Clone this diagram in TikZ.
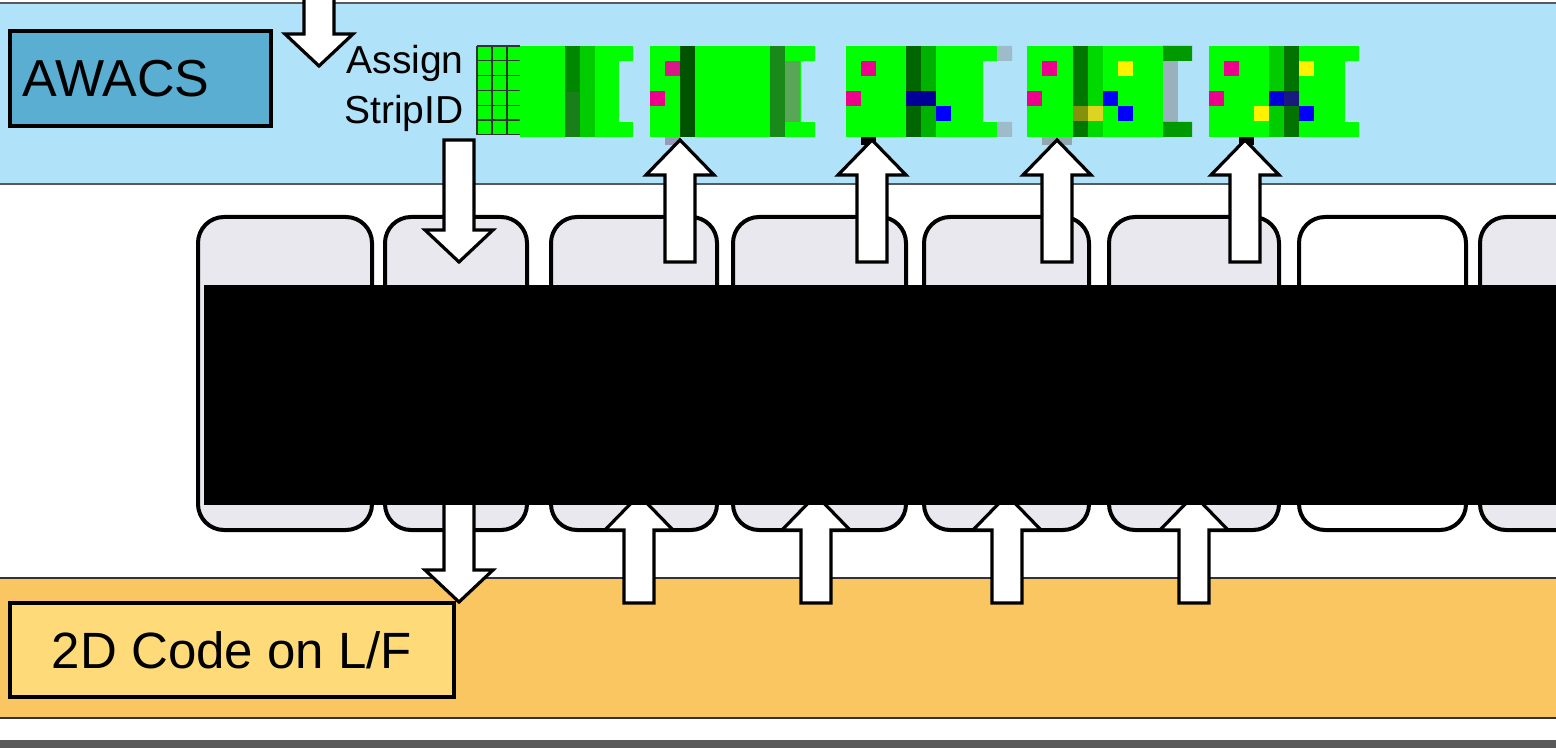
\documentclass[tikz,border=0pt]{standalone}
\usepackage{fontspec}
\setmainfont{Liberation Sans}
\begin{document}
\begin{tikzpicture}[x=0.5pt,y=-0.5pt,
  box/.style={draw=black,line width=2pt,rounded corners=13pt,fill=boxgray},
  lbl/.style={draw=black,line width=1.7pt,inner sep=0pt},
  barrow/.style={draw=black,line width=1.6pt,fill=white,line join=miter}]
\definecolor{bandblue}{HTML}{B0E2F9}
\definecolor{awacs}{HTML}{5AAED2}
\definecolor{bandor}{HTML}{F9C662}
\definecolor{codebox}{HTML}{FEDB78}
\definecolor{boxgray}{HTML}{E9E8EE}
\definecolor{gr}{HTML}{00FF00}
\useasboundingbox (0,0) rectangle (1556,748);
\newcommand{\uparr}[3]{\draw[barrow] (#1-15,#2) -- (#1-15,#3+35) -- (#1-34,#3+35) -- (#1,#3) -- (#1+34,#3+35) -- (#1+15,#3+35) -- (#1+15,#2) -- cycle;}
\newcommand{\dnarr}[3]{\draw[barrow] (#1-15,#2) -- (#1-15,#3-32) -- (#1-34,#3-32) -- (#1,#3) -- (#1+34,#3-32) -- (#1+15,#3-32) -- (#1+15,#2) -- cycle;}
\newcommand{\px}[4]{\fill[#4] (#1,#2) rectangle (#1+15,#2+#3);}
% bands
\fill[bandblue] (0,3) rectangle (1556,184);
\draw[gray!70!black,line width=0.8pt] (0,3) -- (1556,3) (0,184) -- (1556,184);
\fill[bandor] (0,578) rectangle (1556,718);
\draw[gray!40!black,line width=0.8pt] (0,578) -- (1556,578) (0,718) -- (1556,718);
\fill[black!65] (0,740) rectangle (1556,748);
% label nodes
\node[lbl,fill=awacs,minimum width=130.5pt,minimum height=47.5pt,text width=118pt,align=left,font=\fontsize{26}{28}\selectfont] (awacs) at (140.5,78.5) {AWACS};
\node[lbl,fill=codebox,minimum width=222pt,minimum height=47pt,font=\fontsize{25.5}{28}\selectfont] (code) at (232,650) {2D Code on L/F};
\node[align=right,font=\fontsize{19.5}{25}\selectfont,inner sep=0pt] (assign) at (404,88) {Assign\\StripID};
% top down arrow
\dnarr{319}{-5}{66}
% grid
\fill[gr] (477,46) rectangle (520,135);
\foreach \i in {0,...,6} \draw[black!80,line width=0.6pt] (477,46+\i*14.8) -- (520,46+\i*14.8);
\foreach \i in {0,1,2} \draw[black!80,line width=0.6pt] (477+\i*15,46) -- (477+\i*15,135);
% strips
\foreach \a/\b in {520/633,650/815,846/997,1027/1192,1209/1359}{
  \fill[gr] (\a,46) rectangle (\b,137);
  \fill[bandblue] (\b-14,61) rectangle (\b,122);}
% strip1
\fill[green!53!black] (565,46) rectangle (580,92);
\fill[green!50!black!80!gray] (565,92) rectangle (580,137);
\fill[green!80!black] (580,46) rectangle (595,137);
% strip2
\px{665}{61}{15}{magenta!80!violet}\px{650}{91}{15}{magenta}
\fill[green!33!black] (680,46) rectangle (695,137);
\fill[green!55!black!80!gray] (770,46) rectangle (785,137);
\fill[green!30!gray] (785,61) rectangle (800,122);
\fill[black!70!blue!40] (665,137) rectangle (680,145);
% strip3
\px{861}{61}{15}{magenta}\px{846}{91}{15}{magenta}
\fill[green!40!black] (906,46) rectangle (921,137);
\fill[green!70!black] (921,46) rectangle (936,137);
\fill[blue!60!black] (906,91) rectangle (936,106);
\px{936}{106}{15}{blue}
\fill[gray!40!bandblue] (997,46) rectangle (1012,61) (997,122) rectangle (1012,137);
\fill[black] (861,137) rectangle (876,145);
% strip4
\px{1042}{61}{15}{magenta}\px{1027}{91}{15}{magenta}
\fill[green!47!black] (1073,46) rectangle (1088,137);
\fill[green!85!black] (1088,46) rectangle (1103,137);
\px{1118}{61}{15}{yellow}\px{1103}{91}{15}{blue}\px{1118}{106}{15}{blue}
\px{1088}{106}{15}{yellow!85!black}\px{1073}{106}{15}{olive!80!green}
\fill[gray!50!bandblue] (1163,61) rectangle (1178,122);
\fill[green!60!black] (1163,46) rectangle (1192,61) (1163,122) rectangle (1192,137);
\fill[gray!60!bandblue] (1042,137) rectangle (1072,145);
% strip5
\px{1224}{61}{15}{magenta}\px{1209}{91}{15}{magenta}
\fill[green!80!black] (1269,46) rectangle (1284,137);
\fill[green!45!black] (1284,46) rectangle (1299,137);
\px{1299}{61}{15}{yellow}\px{1269}{91}{15}{blue!85!black}\px{1284}{91}{15}{blue!50!black!80!gray}
\px{1254}{106}{15}{yellow}\px{1299}{106}{15}{blue}
\fill[black] (1239,137) rectangle (1254,145);
% rounded boxes
\foreach \a/\b/\n in {198/372/b1,385/527/b2,551/717/b3,733/906/b4,924/1089/b5,1109/1279/b6}
  \draw[box] (\a,217) rectangle (\b,530);
\draw[box,fill=white] (1299,217) rectangle (1466,530);
\draw[box] (1480,217) rectangle (1600,530);
% bottom arrows (under black)
\dnarr{459}{480}{602}
\foreach \c in {639,816,1007,1194} {\uparr{\c}{603}{495}}
% black rectangle
\fill[black] (204,285) rectangle (1556,505);
% top arrows
\dnarr{459}{140}{262}
\foreach \c in {680,872,1057,1245} {\uparr{\c}{262}{140}}
\end{tikzpicture}
\end{document}
